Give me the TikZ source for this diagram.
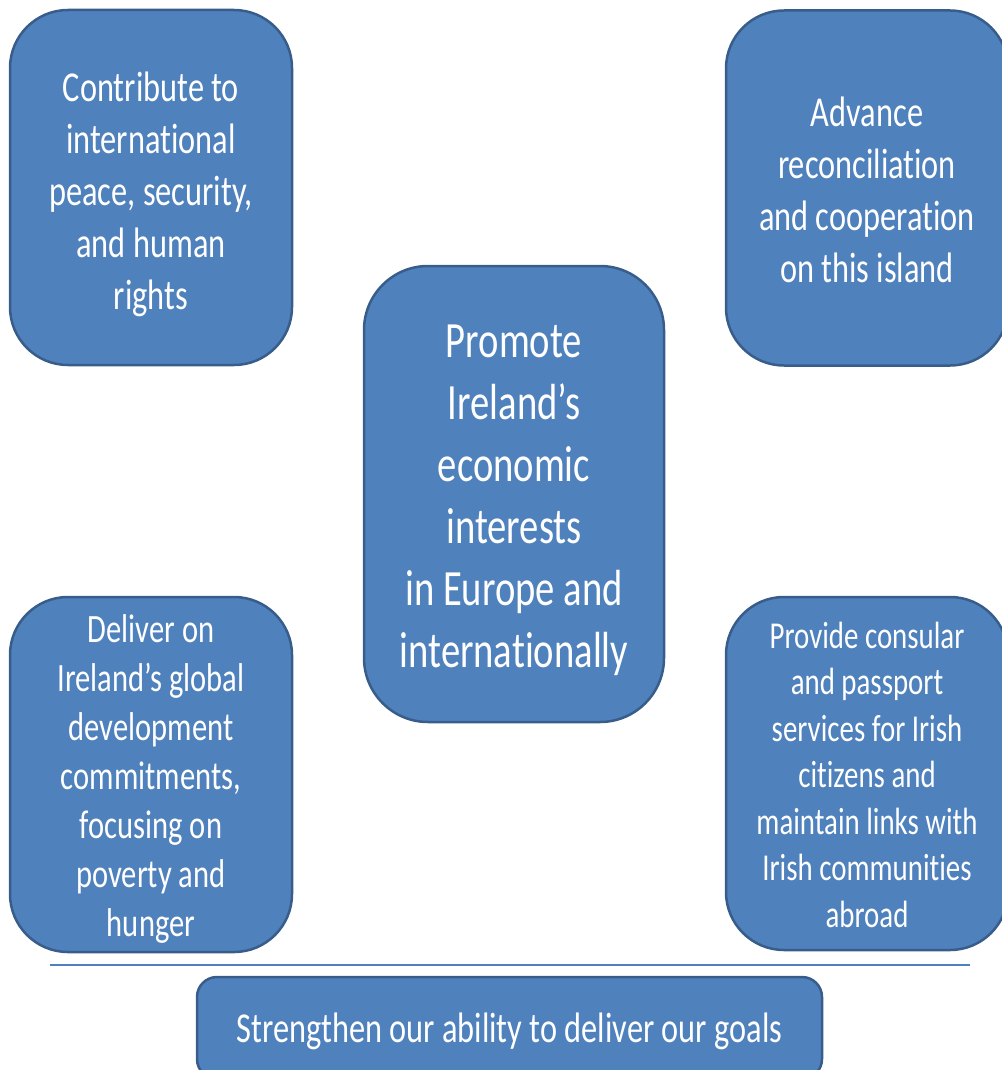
\documentclass[tikz,border=0pt]{standalone}
\usepackage{fontspec}
\setmainfont{Carlito}[FakeStretch=0.76, Ligatures=CommonOff]
\definecolor{goalblue}{HTML}{4F81BD}
\definecolor{goaledge}{HTML}{385D8A}

\begin{document}
\begin{tikzpicture}[x=1pt, y=-1pt,
  goal/.style={draw=goaledge, fill=goalblue, line width=2.5pt, rounded corners=58pt,
    inner sep=0pt, minimum width=282pt, minimum height=355pt},
  goaltext/.style={text=white, align=center, inner sep=0pt}]
\useasboundingbox (0,0) rectangle (1001,1070);
% the five goal boxes
\node[goal] (peace) at (151,187.5) {};
\node[goaltext, font=\fontsize{42.6}{52}\selectfont] (peacetext) at ([yshift=-7pt]peace.center) {Contribute to\\international\\peace, security,\\and human\\rights};
\node[goal] (island) at (867,188) {};
\node[goaltext, font=\fontsize{42.6}{52}\selectfont] (islandtext) at ([yshift=-2pt]island.center) {Advance\\reconciliation\\and cooperation\\on this island};
\node[goal, minimum width=300pt, minimum height=456pt, rounded corners=64pt] (economy) at (514,494) {};
\node[goaltext, font=\fontsize{50.8}{62}\selectfont] (economytext) at ([yshift=-6pt]economy.center) {Promote\\Ireland’s\\economic\\interests\\in Europe and\\internationally};
\node[goal] (aid) at (151,774.5) {};
\node[goaltext, font=\fontsize{40.2}{49}\selectfont] (aidtext) at ([yshift=-4pt]aid.center) {Deliver on\\Ireland’s global\\development\\commitments,\\focusing on\\poverty and\\hunger};
\node[goal, minimum height=353pt] (consular) at (867,773.5) {};
\node[goaltext, font=\fontsize{38}{46.5}\selectfont] (consulartext) at ([yshift=-1pt]consular.center) {Provide consular\\and passport\\services for Irish\\citizens and\\maintain links with\\Irish communities\\abroad};
% separator and the bottom box
\draw[goalblue, line width=1.5pt] (50,965) -- (970,965);
\node[goal, minimum width=625pt, minimum height=102pt, rounded corners=20pt] (ability) at (509.5,1028) {};
\node[goaltext, font=\fontsize{42.6}{52}\selectfont] (abilitytext) at ([yshift=-3pt]ability.center) {Strengthen our ability to deliver our goals};
\end{tikzpicture}
\end{document}
